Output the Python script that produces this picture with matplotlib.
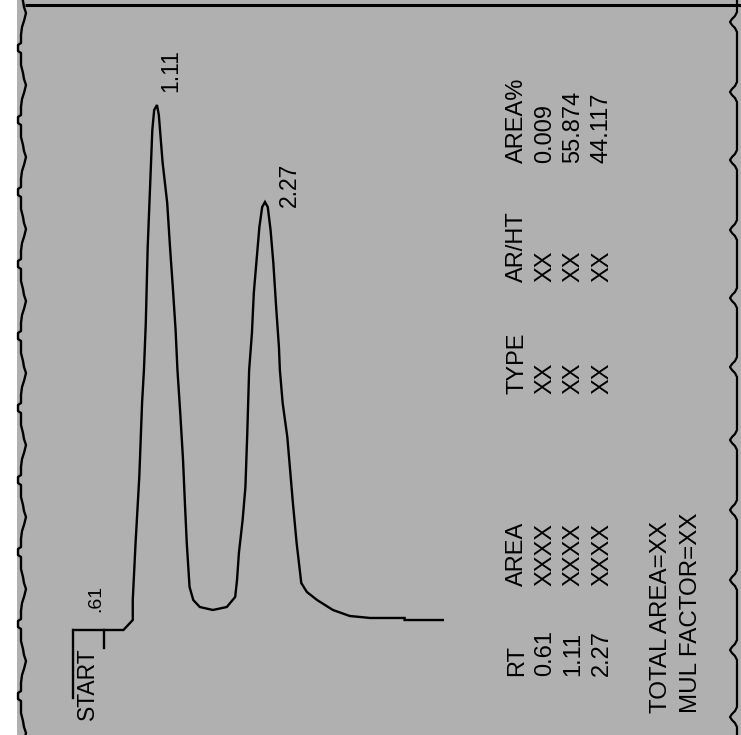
import matplotlib
matplotlib.use("Agg")
import matplotlib.pyplot as plt
from matplotlib.patches import Rectangle

plt.rcParams['font.family'] = ['Liberation Sans Narrow', 'Liberation Sans', 'DejaVu Sans']

# ---------------- data ----------------
# chromatogram trace: retention time (min) and detector signal (relative units)
time_min = [0.21, 0.75, 0.80, 0.85, 0.85, 0.88, 0.92, 0.95, 0.97, 0.99, 1.01, 1.06, 1.08,
            1.11, 1.13, 1.17, 1.22, 1.25, 1.28, 1.31, 1.33, 1.36, 1.39, 1.41, 1.43, 1.46,
            1.50, 1.57, 1.71, 1.86, 1.95, 1.97, 1.99, 2.03, 2.06, 2.08, 2.10, 2.13, 2.15,
            2.18, 2.21, 2.24, 2.27, 2.30, 2.33, 2.36, 2.39, 2.42, 2.43, 2.46, 2.51, 2.54,
            2.57, 2.61, 2.66, 2.72, 2.83, 3.00, 3.18, 3.40, 3.77, 3.77, 4.18]
signal = [0.0, 0.0, 0.95, 1.90, 5.71, 16.57, 29.14, 43.24, 49.52, 58.48, 72.76, 95.24, 99.05,
          100.0, 98.10, 89.14, 81.33, 72.95, 65.33, 57.14, 49.52, 41.33, 32.38, 24.19, 16.57, 8.19,
          5.71, 4.38, 3.81, 4.38, 6.29, 9.52, 14.67, 20.95, 27.24, 37.52, 49.52, 56.57, 64.19,
          70.48, 76.76, 80.57, 81.52, 80.57, 76.19, 69.90, 61.52, 53.90, 49.52, 43.24, 36.76, 30.48,
          24.19, 16.57, 8.95, 7.24, 5.71, 3.81, 2.67, 2.29, 2.29, 1.90, 1.90]

start_time = 0.21          # injection (START) mark
rt_mark_time = 0.54        # drawn position of the .61 event tick
peak_times = [1.11, 2.27]
peak_heights = [100.0, 81.52]
peak_labels = ["1.11", "2.27"]
first_event_label = ".61"

# report table
rt_col = ["RT", "0.61", "1.11", "2.27"]
area_col = ["AREA", "XXXX", "XXXX", "XXXX"]
type_col = ["TYPE", "XX", "XX", "XX"]
arht_col = ["AR/HT", "XX", "XX", "XX"]
areapct_col = ["AREA%", "0.009", "55.874", "44.117"]
footer_lines = ["TOTAL AREA=XX", "MUL FACTOR=XX"]

# ---------------- figure ----------------
W, H = 741, 735
fig = plt.figure(figsize=(W / 100, H / 100), dpi=100, facecolor="white")

# decoration layer in pixel units
fax = fig.add_axes([0, 0, 1, 1], zorder=0)
fax.set_xlim(0, W)
fax.set_ylim(H, 0)
fax.axis("off")
GRAY = "#b0b0b0"
fax.add_patch(Rectangle((17, 0), W - 17, H, facecolor=GRAY, edgecolor="none"))
# top edge of paper
fax.plot([25, W], [5, 5], color="black", lw=2.2, solid_capstyle="butt")

# torn left edge (one period shape repeated)
left_pattern = [(0, 26), (8, 24), (14, 22), (22, 21), (30, 21), (32, 18), (38, 18), (40, 21),
                (52, 21), (60, 23), (66, 24)]
lx, ly = [], []
for k in range(-1, 11):
    for dy, x in left_pattern:
        lx.append(x)
        ly.append(13 + 72 * k + dy)
fax.plot(lx, ly, color="black", lw=1.7)

# right edge with brace-like bumps
bump_y = [22, 92, 160, 230, 298, 367, 440, 510, 580, 650, 717]
rx, ry = [737], [-5]
for b in bump_y:
    rx += [737, 735, 732, 730, 732, 735, 737]
    ry += [b - 10, b - 6, b - 3, b, b + 3, b + 6, b + 10]
rx.append(737)
ry.append(H + 5)
fax.plot(rx, ry, color="black", lw=1.6)

# ---------------- chromatogram axes ----------------
ax = fig.add_axes([0, 0, 1, 1], zorder=1)
ax.patch.set_alpha(0)
ax.set_xlim(-0.576, 7.383)
ax.set_ylim(-20, 120)
ax.axis("off")

ax.plot(time_min, signal, color="black", lw=1.7, solid_joinstyle="miter")
# START bar and event tick
ax.plot([start_time, start_time], [0, -13], color="black", lw=1.7)
ax.plot([rt_mark_time, rt_mark_time], [0, -3.4], color="black", lw=1.7)

FS = 17
ax.text(0.363, -3.4, "START", rotation=90, ha="center", va="top", fontsize=16.5)
ax.text(0.455, 3.4, first_event_label, rotation=90, ha="center", va="bottom", fontsize=14)
label_offsets = [(14, 13), (24, -5)]
for t, h, lab, (dx, dy) in zip(peak_times, peak_heights, peak_labels, label_offsets):
    ax.annotate(lab, xy=(t, h), xytext=(dx, dy), textcoords="offset pixels",
                rotation=90, ha="center", va="bottom", fontsize=16.5)

# ---------------- report table ----------------
row_x = [517, 545, 573, 602]
col_bottoms = [(rt_col, 676), (area_col, 586), (type_col, 394), (arht_col, 282), (areapct_col, 163)]
for col, yb in col_bottoms:
    for x, s in zip(row_x, col):
        fax.text(x, yb, s, rotation=90, ha="center", va="bottom", fontsize=FS)
for x, s in zip([661, 691], footer_lines):
    fax.text(x, 713, s, rotation=90, ha="center", va="bottom", fontsize=17.4)

fig.savefig("out.png", dpi=100, facecolor="white")
